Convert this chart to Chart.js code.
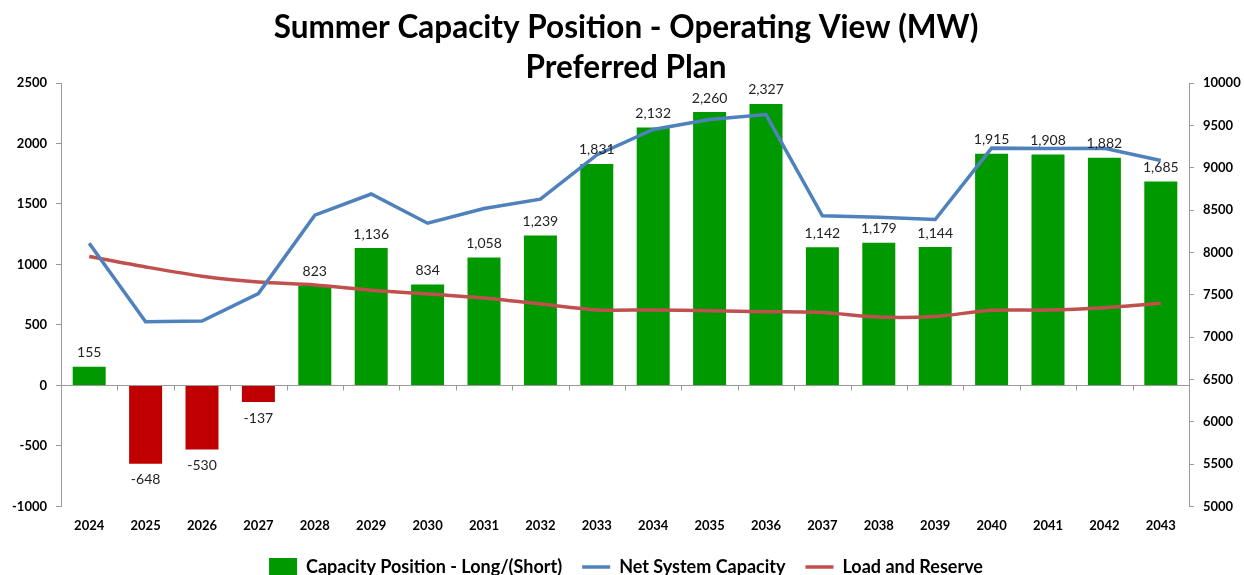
<!DOCTYPE html>
<html lang="en">
<head>
    <meta charset="UTF-8">
    <title>Summer Capacity Position - Operating View (MW)</title>
    <script src="https://cdn.jsdelivr.net/npm/chart.js"></script>
    <style>
        html, body { margin: 0; padding: 0; background: #fff; }
        #wrap { width: 1244px; height: 575px; }
    </style>
</head>
<body>
    <div id="wrap"><canvas id="capChart" width="1244" height="575"></canvas></div>

    <script>
        const years = ['2024','2025','2026','2027','2028','2029','2030','2031','2032','2033',
                       '2034','2035','2036','2037','2038','2039','2040','2041','2042','2043'];
        const capacityPosition = [155, -648, -530, -137, 823, 1136, 834, 1058, 1239, 1831,
                                  2132, 2260, 2327, 1142, 1179, 1144, 1915, 1908, 1882, 1685];
        const netSystemCapacity = [8107, 7180, 7189, 7513, 8439, 8689, 8344, 8518, 8629, 9151,
                                   9452, 9570, 9627, 8432, 8415, 8388, 9231, 9226, 9229, 9084];
        const loadAndReserve = [7952, 7828, 7719, 7650, 7616, 7553, 7510, 7460, 7390, 7320,
                                7320, 7310, 7300, 7290, 7236, 7244, 7316, 7318, 7347, 7399];
        const leftTicks = [-1000, -500, 0, 500, 1000, 1500, 2000, 2500];
        const rightTicks = [5000, 5500, 6000, 6500, 7000, 7500, 8000, 8500, 9000, 9500, 10000];

        const FONT = 'Lato, "Open Sans", sans-serif';
        const tickFont = { family: FONT, size: 13, weight: 'bold' };

        // zero line + category tick marks + value labels on bars
        const extras = {
            id: 'extras',
            afterDatasetsDraw(chart) {
                const { ctx, chartArea, scales } = chart;
                const y0 = Math.round(scales.y.getPixelForValue(0)) + 0.5;
                ctx.save();
                ctx.strokeStyle = '#9a9a9a';
                ctx.lineWidth = 1;
                ctx.beginPath();
                ctx.moveTo(chartArea.left, y0);
                ctx.lineTo(chartArea.right, y0);
                const step = (chartArea.right - chartArea.left) / years.length;
                for (let i = 1; i < years.length; i++) {
                    const x = Math.round(chartArea.left + i * step) + 0.5;
                    ctx.moveTo(x, y0);
                    ctx.lineTo(x, y0 + 5);
                }
                ctx.stroke();

                const meta = chart.getDatasetMeta(0);
                ctx.fillStyle = '#222';
                ctx.font = '14px ' + FONT;
                ctx.textAlign = 'center';
                meta.data.forEach((bar, i) => {
                    const v = capacityPosition[i];
                    const txt = v.toLocaleString('en-US');
                    if (v >= 0) {
                        ctx.textBaseline = 'bottom';
                        ctx.fillText(txt, bar.x, bar.y - 7);
                    } else {
                        ctx.textBaseline = 'top';
                        ctx.fillText(txt, bar.x, bar.y + 9);
                    }
                });
                ctx.restore();
            }
        };

        new Chart(document.getElementById('capChart'), {
            data: {
                labels: years,
                datasets: [
                    {
                        type: 'bar',
                        label: 'Capacity Position - Long/(Short)',
                        data: capacityPosition,
                        backgroundColor: capacityPosition.map(v => v < 0 ? '#c00000' : '#009900'),
                        barPercentage: 0.585,
                        categoryPercentage: 1,
                        yAxisID: 'y',
                        order: 3,
                        pointStyle: 'rect'
                    },
                    {
                        type: 'line',
                        label: 'Net System Capacity',
                        data: netSystemCapacity,
                        borderColor: '#4f81bd',
                        backgroundColor: '#4f81bd',
                        borderWidth: 3.5,
                        pointRadius: 0,
                        tension: 0,
                        yAxisID: 'y1',
                        order: 1,
                        pointStyle: 'line'
                    },
                    {
                        type: 'line',
                        label: 'Load and Reserve',
                        data: loadAndReserve,
                        borderColor: '#c0504d',
                        backgroundColor: '#c0504d',
                        borderWidth: 3.5,
                        pointRadius: 0,
                        tension: 0.3,
                        yAxisID: 'y1',
                        order: 2,
                        pointStyle: 'line'
                    }
                ]
            },
            options: {
                responsive: false,
                animation: false,
                layout: { padding: { left: 8, right: 0, top: 0, bottom: -11 } },
                plugins: {
                    title: {
                        display: true,
                        text: ['Summer Capacity Position - Operating View (MW)', 'Preferred Plan'],
                        color: '#000',
                        font: { family: FONT, size: 31.5, weight: 'bold', lineHeight: 1.27 },
                        padding: { top: 8, bottom: -5 }
                    },
                    legend: {
                        position: 'bottom',
                        labels: {
                            usePointStyle: true,
                            pointStyleWidth: 28,
                            color: '#000',
                            font: { family: FONT, size: 18, weight: 'bold' },
                            padding: 20,
                            sort: (a, b) => a.datasetIndex - b.datasetIndex
                        }
                    },
                    tooltip: { enabled: false }
                },
                scales: {
                    x: {
                        grid: { display: false },
                        border: { display: false },
                        ticks: { color: '#000', font: tickFont, padding: 4 }
                    },
                    y: {
                        position: 'left',
                        min: leftTicks[0],
                        max: leftTicks[leftTicks.length - 1],
                        afterBuildTicks: axis => { axis.ticks = leftTicks.map(v => ({ value: v })); },
                        afterFit: axis => { axis.width = 53; },
                        grid: { drawOnChartArea: false, tickLength: 5, color: '#9a9a9a' },
                        border: { color: '#9a9a9a' },
                        ticks: { color: '#000', font: tickFont, padding: 9, callback: v => String(v) }
                    },
                    y1: {
                        position: 'right',
                        min: rightTicks[0],
                        max: rightTicks[rightTicks.length - 1],
                        afterBuildTicks: axis => { axis.ticks = rightTicks.map(v => ({ value: v })); },
                        afterFit: axis => { axis.width = 55; },
                        grid: { drawOnChartArea: false, tickLength: 5, color: '#9a9a9a' },
                        border: { color: '#9a9a9a' },
                        ticks: { color: '#000', font: tickFont, padding: 9, callback: v => String(v) }
                    }
                }
            },
            plugins: [extras]
        });
    </script>
</body>
</html>
